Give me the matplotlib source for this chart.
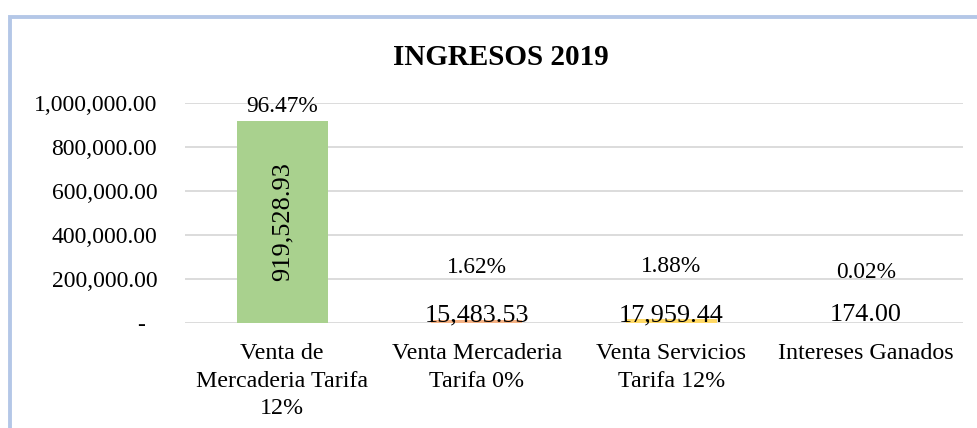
import matplotlib
matplotlib.use("Agg")
import matplotlib.pyplot as plt
from matplotlib.patches import Rectangle
from matplotlib.ticker import FuncFormatter
import matplotlib.transforms as mtransforms

plt.rcParams['font.family'] = ['Liberation Serif', 'DejaVu Serif']

categories = ["Venta de\nMercaderia Tarifa\n12%", "Venta Mercaderia\nTarifa 0%",
              "Venta Servicios\nTarifa 12%", "Intereses Ganados"]
values = [919528.93, 15483.53, 17959.44, 174.00]
percent_labels = ["96.47%", "1.62%", "1.88%", "0.02%"]
bar_colors = ["#A9D18E", "#F4B183", "#FFD966", "#9DC3E6"]
y_ticks = [0, 200000, 400000, 600000, 800000, 1000000]
title = "INGRESOS 2019"

# label layout (data units for percentage labels)
pct_label_y = [982000, 253000, 257000, 230000]

W, H = 978, 428
fig = plt.figure(figsize=(W / 100, H / 100), dpi=100)
ax = fig.add_axes([185 / W, (H - 323.3) / H, (963 - 185) / W, 220.3 / H])

x = list(range(len(categories)))
bars = ax.bar(x, values, width=0.47, color=bar_colors, zorder=2)
ax.set_xlim(-0.5, len(categories) - 0.5)
ax.set_ylim(0, 1000000)
ax.set_yticks(y_ticks)

def fmt(v, pos):
    if v == 0:
        return "-  "
    return f"{v:,.2f}"
ax.yaxis.set_major_formatter(FuncFormatter(fmt))
ax.set_xticks(x)
ax.set_xticklabels(categories, fontsize=17.3, linespacing=1.4)
ax.tick_params(axis='y', length=0, pad=20, labelsize=17)
ax.tick_params(axis='x', length=0, pad=14.5)
ax.grid(axis='y', color='#D9D9D9', linewidth=1.3, zorder=0)
for s in ax.spines.values():
    s.set_visible(False)

# percentage labels
for i, (p, yy) in enumerate(zip(percent_labels, pct_label_y)):
    ax.text(i, yy, p, ha='center', va='center', fontsize=16.8, zorder=3)

# value labels
off = mtransforms.ScaledTranslation(0, 2 / 100, fig.dpi_scale_trans)
for i, v in enumerate(values):
    if v > 500000:
        ax.text(i, v / 2, f"{v:,.2f}", ha='center', va='center', rotation=90,
                fontsize=19, zorder=3)
    else:
        ax.text(i, 0, f"{v:,.2f}", ha='center', va='baseline', fontsize=18.8, zorder=3,
                transform=ax.transData + off)

fig.text(0.5 * (393 + 608) / W, 1 - 65 / H, title, ha='center', va='baseline',
         fontsize=21, fontweight='bold')

fig.add_artist(Rectangle((9.5 / W, -0.2), 2.0, 1.2 - 17 / H, transform=fig.transFigure,
                         fill=False, edgecolor='#B4C7E7', linewidth=2.8))

fig.savefig("out.png", dpi=100, facecolor='white')
